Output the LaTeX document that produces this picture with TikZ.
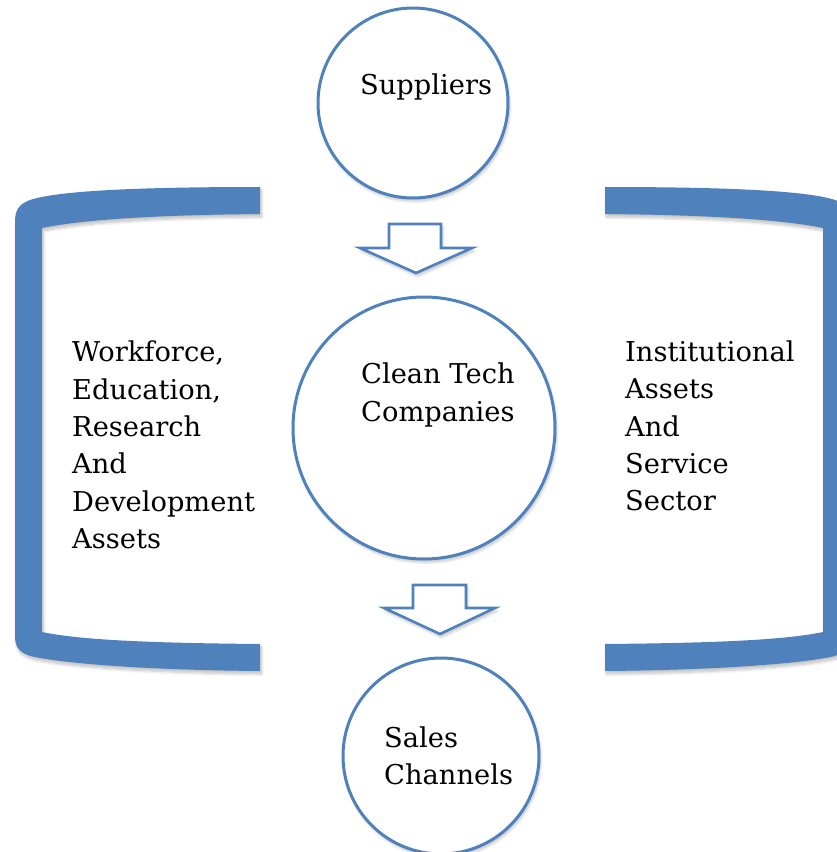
\documentclass[tikz,border=0pt]{standalone}
\usepackage{fontspec}
\setmainfont{DejaVu Serif}
\usetikzlibrary{shadows.blur}

\definecolor{officeblue}{HTML}{4F81BD}

\tikzset{
  softshadow/.style={blur shadow={shadow xshift=1.5pt, shadow yshift=-3pt,
      shadow blur steps=8, shadow blur radius=3pt, shadow opacity=25}},
  ring/.style={circle, draw=officeblue, line width=3pt, fill=white,
      inner sep=0pt, softshadow},
  caption/.style={font=\fontsize{27.3}{37.3}\selectfont, align=left,
      anchor=west, inner sep=0pt, text=black},
  blockarrow/.style={draw=officeblue, line width=2.6pt, fill=white,
      line join=miter, softshadow},
  bracket/.pic={
    \path[fill=officeblue, softshadow]
      (260,187) .. controls (150,187) and (60,190) .. (30,200)
      .. controls (19,204) and (15,210) .. (15,222)
      -- (15,636)
      .. controls (15,648) and (20,654) .. (35,657)
      .. controls (70,664) and (150,670) .. (260,671)
      -- (260,644)
      .. controls (150,643) and (80,640) .. (42,632)
      -- (42,228)
      .. controls (80,220) and (150,215) .. (260,214)
      -- cycle;
  }
}

\begin{document}
\begin{tikzpicture}[x=1pt, y=-1pt]
  \useasboundingbox (0,0) rectangle (837,852);
  \clip (0,0) rectangle (837,852);

  % side brackets
  \pic at (0,0) {bracket};
  \pic[xscale=-1] at (865,0) {bracket};

  % circles
  \node[ring, minimum size=190pt] (sup) at (413,103) {};
  \node[ring, minimum size=262pt] (ctc) at (424,428) {};
  \node[ring, minimum size=196pt] (sal) at (441,756) {};

  % block arrows between the circles
  \path[blockarrow] (389,224) -- (441,224) -- (441,248) -- (472,248)
     -- (416,273) -- (360,248) -- (389,248) -- cycle;
  \path[blockarrow] (413,585) -- (466,585) -- (466,608) -- (495,608)
     -- (440,634) -- (384,608) -- (413,608) -- cycle;

  % texts
  \node[caption] (tsup) at (360,87) {Suppliers};
  \node[caption] (tctc) at (361,395) {Clean Tech\\Companies};
  \node[caption] (tsal) at (384,756) {Sales\\Channels};
  \node[caption] (tleft) at (72,445) {Workforce,\\Education,\\Research\\And\\Development\\Assets};
  \node[caption] (tright) at (625,426) {Institutional\\Assets\\And\\Service\\Sector};
\end{tikzpicture}
\end{document}
